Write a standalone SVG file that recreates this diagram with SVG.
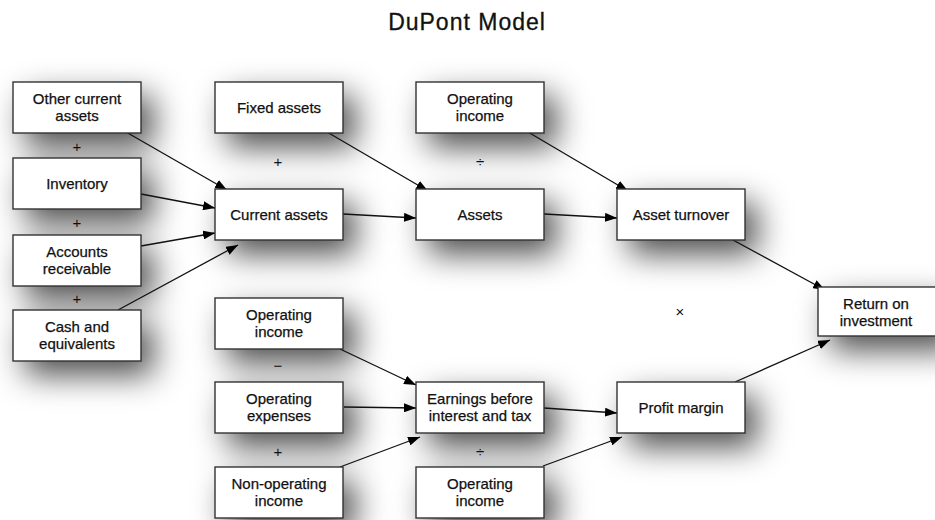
<svg xmlns="http://www.w3.org/2000/svg" width="935" height="520" viewBox="0 0 935 520">
<defs>
  <filter id="sh" x="-60%" y="-60%" width="220%" height="220%">
    <feGaussianBlur stdDeviation="16"/>
  </filter>
  <marker id="ah" viewBox="0 0 12 9" markerWidth="12" markerHeight="9" refX="12" refY="4.5" orient="auto" markerUnits="userSpaceOnUse">
    <path d="M0,0 L12,4.5 L0,9 z" fill="#000"/>
  </marker>
</defs>
<style>
  .box { fill: #fff; stroke: #333; stroke-width: 1.4; }
  .shd { fill: #000; opacity: 0.7; }
  .lbl { font-family: "Liberation Sans", Arial, sans-serif; font-size: 15px; fill: #111; text-anchor: middle; stroke: #111; stroke-width: 0.25; }
  .op { font-family: "Liberation Sans", Arial, sans-serif; font-size: 15px; fill: #111; text-anchor: middle; }
  .title { font-family: "Liberation Sans", Arial, sans-serif; font-size: 23px; letter-spacing: 1px; fill: #111; text-anchor: middle; stroke: #111; stroke-width: 0.3; }
  .conn line { stroke: #111; stroke-width: 1.3; marker-end: url(#ah); }
</style>
<rect width="935" height="520" fill="#fff"/>

<g id="shadows" filter="url(#sh)">
  <g class="shd" transform="translate(12,14)">
    <rect x="13" y="82" width="128" height="51"/>
    <rect x="13" y="158" width="128" height="51"/>
    <rect x="13" y="235" width="128" height="51"/>
    <rect x="13" y="310" width="128" height="51"/>
    <rect x="215" y="82" width="128" height="51"/>
    <rect x="215" y="189" width="128" height="51"/>
    <rect x="215" y="298" width="128" height="51"/>
    <rect x="215" y="382" width="128" height="51"/>
    <rect x="215" y="467" width="128" height="51"/>
    <rect x="416" y="82" width="128" height="51"/>
    <rect x="416" y="189" width="128" height="51"/>
    <rect x="416" y="382" width="128" height="51"/>
    <rect x="416" y="467" width="128" height="51"/>
    <rect x="617" y="189" width="128" height="51"/>
    <rect x="617" y="382" width="128" height="51"/>
    <rect x="818" y="287" width="128" height="49"/>
  </g>
</g>

<text class="title" x="467" y="30">DuPont Model</text>

<g id="connectors" class="conn">
  <line x1="126" y1="132" x2="227" y2="190"/>
  <line x1="141" y1="194" x2="215" y2="208"/>
  <line x1="141" y1="246" x2="215" y2="233"/>
  <line x1="118" y1="310" x2="238" y2="245"/>
  <line x1="343" y1="214" x2="416" y2="218"/>
  <line x1="327" y1="132" x2="428" y2="191"/>
  <line x1="528" y1="132" x2="628" y2="191"/>
  <line x1="544" y1="214" x2="617" y2="218"/>
  <line x1="733" y1="240" x2="825" y2="290"/>
  <line x1="735" y1="382" x2="830" y2="340"/>
  <line x1="340" y1="349" x2="416" y2="385"/>
  <line x1="344" y1="407" x2="416" y2="408"/>
  <line x1="340" y1="467" x2="420" y2="437"/>
  <line x1="544" y1="408" x2="617" y2="413"/>
  <line x1="543" y1="466" x2="622" y2="437"/>
</g>

<g id="other-current-assets"><rect class="box" x="13" y="82" width="128" height="51"/><text class="lbl" x="77" y="104">Other current</text><text class="lbl" x="77" y="121">assets</text></g>
<g id="inventory"><rect class="box" x="13" y="158" width="128" height="51"/><text class="lbl" x="77" y="189">Inventory</text></g>
<g id="accounts-receivable"><rect class="box" x="13" y="235" width="128" height="51"/><text class="lbl" x="77" y="257">Accounts</text><text class="lbl" x="77" y="274">receivable</text></g>
<g id="cash"><rect class="box" x="13" y="310" width="128" height="51"/><text class="lbl" x="77" y="332">Cash and</text><text class="lbl" x="77" y="349">equivalents</text></g>

<g id="fixed-assets"><rect class="box" x="215" y="82" width="128" height="51"/><text class="lbl" x="279" y="113">Fixed assets</text></g>
<g id="current-assets"><rect class="box" x="215" y="189" width="128" height="51"/><text class="lbl" x="279" y="220">Current assets</text></g>
<g id="operating-income-1"><rect class="box" x="215" y="298" width="128" height="51"/><text class="lbl" x="279" y="320">Operating</text><text class="lbl" x="279" y="337">income</text></g>
<g id="operating-expenses"><rect class="box" x="215" y="382" width="128" height="51"/><text class="lbl" x="279" y="404">Operating</text><text class="lbl" x="279" y="421">expenses</text></g>
<g id="non-operating-income"><rect class="box" x="215" y="467" width="128" height="51"/><text class="lbl" x="279" y="489">Non-operating</text><text class="lbl" x="279" y="506">income</text></g>

<g id="operating-income-2"><rect class="box" x="416" y="82" width="128" height="51"/><text class="lbl" x="480" y="104">Operating</text><text class="lbl" x="480" y="121">income</text></g>
<g id="assets"><rect class="box" x="416" y="189" width="128" height="51"/><text class="lbl" x="480" y="220">Assets</text></g>
<g id="ebit"><rect class="box" x="416" y="382" width="128" height="51"/><text class="lbl" x="480" y="404">Earnings before</text><text class="lbl" x="480" y="421">interest and tax</text></g>
<g id="operating-income-3"><rect class="box" x="416" y="467" width="128" height="51"/><text class="lbl" x="480" y="489">Operating</text><text class="lbl" x="480" y="506">income</text></g>

<g id="asset-turnover"><rect class="box" x="617" y="189" width="128" height="51"/><text class="lbl" x="681" y="220">Asset turnover</text></g>
<g id="profit-margin"><rect class="box" x="617" y="382" width="128" height="51"/><text class="lbl" x="681" y="413">Profit margin</text></g>
<g id="roi"><rect class="box" x="818" y="287" width="128" height="49"/><text class="lbl" x="876" y="309">Return on</text><text class="lbl" x="876" y="326">investment</text></g>

<g id="operators">
  <text class="op" x="77" y="152">+</text>
  <text class="op" x="77" y="228">+</text>
  <text class="op" x="77" y="304">+</text>
  <text class="op" x="278" y="167">+</text>
  <text class="op" x="480" y="167">÷</text>
  <text class="op" x="680" y="317">×</text>
  <text class="op" x="278" y="371">−</text>
  <text class="op" x="278" y="457">+</text>
  <text class="op" x="480" y="457">÷</text>
</g>
</svg>
